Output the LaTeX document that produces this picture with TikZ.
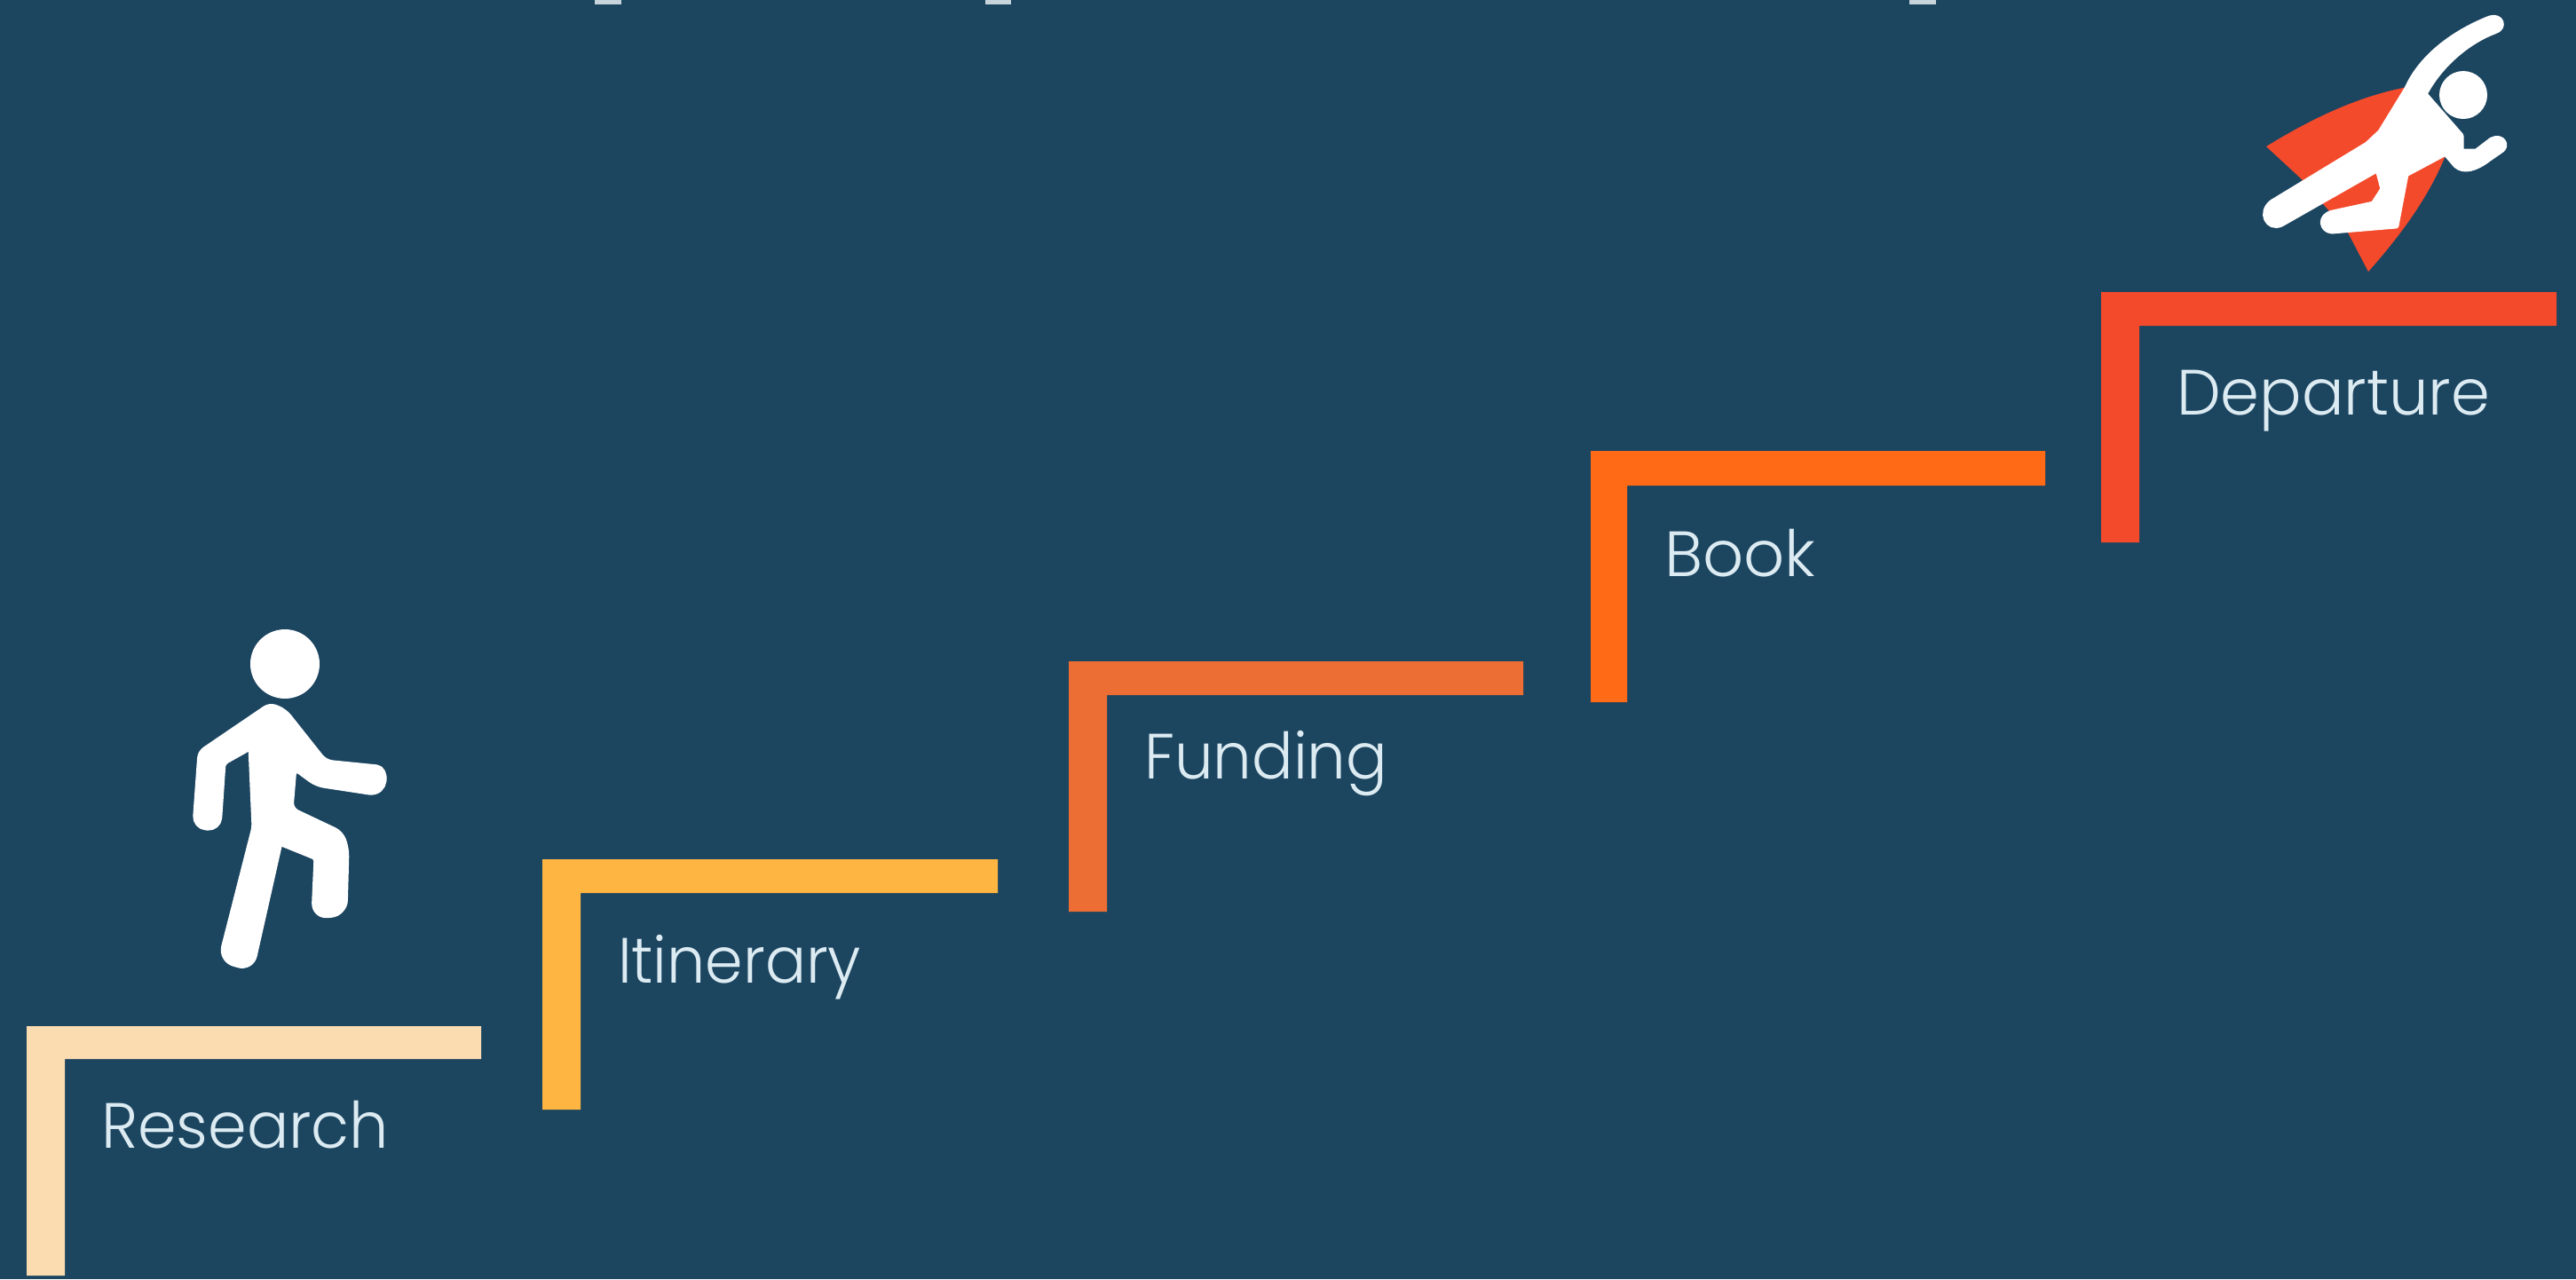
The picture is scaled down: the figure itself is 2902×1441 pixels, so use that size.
\documentclass[tikz,border=0pt]{standalone}
\usepackage{fontspec}
\usepackage{graphicx}
\setmainfont{Poppins}[UprightFont=* Light]
\definecolor{bgnavy}{HTML}{1C4560}
\definecolor{stepa}{HTML}{FBDCB0}
\definecolor{stepb}{HTML}{FFB541}
\definecolor{stepc}{HTML}{EC6E34}
\definecolor{stepd}{HTML}{FF6A17}
\definecolor{stepe}{HTML}{F34A2B}
\definecolor{labeltext}{HTML}{DCEBF2}
\definecolor{cropmark}{HTML}{C8D4DC}
\tikzset{
  lbl/.style={anchor=base west,inner sep=0pt,outer sep=0pt,text=labeltext,font=\fontsize{20.5pt}{24pt}\selectfont},
  figure/.style={fill=white,draw=white,line width=0.07cm,line join=round}
}
\newcommand{\fitw}[2]{\resizebox{#1}{\height}{#2}}
% \stair{colour}{left}{inner}{right}{top}{innery}{bottom}
\newcommand{\stair}[7]{\fill[#1] (#2,#5) -- (#4,#5) -- (#4,#6) -- (#3,#6) -- (#3,#7) -- (#2,#7) -- cycle;}
\begin{document}
\begin{tikzpicture}[x=0.01cm,y=-0.01cm]
\useasboundingbox (0,0) rectangle (2902,1441);
\fill[bgnavy] (0,0) rectangle (2902,1441);
% clipped marks along the top edge
\fill[cropmark] (670,0) rectangle (700,5);
\fill[cropmark] (1110,0) rectangle (1139,5);
\fill[cropmark] (2151,0) rectangle (2181,5);
% stairs
\stair{stepa}{30}{73}{542}{1156}{1193}{1437}
\stair{stepb}{611}{654}{1124}{968}{1006}{1250}
\stair{stepc}{1204}{1247}{1716}{745}{783}{1027}
\stair{stepd}{1792}{1833}{2304}{508}{547}{791}
\stair{stepe}{2367}{2410}{2880}{329}{367}{611}
% labels
\node[lbl] (research) at (114,1293) {\fitw{3.24cm}{Research}};
\node[lbl] (itinerary) at (696,1107) {\fitw{2.74cm}{Itinerary}};
\node[lbl] (funding) at (1289,877) {\fitw{2.74cm}{Funding}};
\node[lbl] (book) at (1875,649) {\fitw{1.70cm}{Book}};
\node[lbl] (departure) at (2452,467) {\fitw{3.53cm}{Departure}};
% walker
\fill[white] (321,748) circle (39);
\path[figure,rounded corners=0.08cm]
  (304,795) -- (320,801) -- (366,859) -- (416,864)
  [sharp corners] .. controls (436,866) and (436,894) .. (416,892)
  [rounded corners=0.08cm] -- (357,883)
  -- (331,864) -- (327,912) -- (384,939) -- (390,957)
  [rounded corners=0.15cm] -- (388,1029) -- (354,1032) [rounded corners=0.04cm]
  -- (357,966) -- (315,949)
  [rounded corners=0.15cm] -- (283,1091) -- (249,1081) [rounded corners=0.04cm]
  -- (287,932) -- (283,841) -- (251,859)
  [rounded corners=0.12cm] -- (246,933) -- (220,931) [rounded corners=0.06cm]
  -- (226,848) -- cycle;
% flyer
\fill[stepe] (2553,165) .. controls (2610,130) and (2660,108) .. (2712,98)
  -- (2722,150) -- (2755,175) .. controls (2735,225) and (2700,270) .. (2668,306)
  -- (2645,262) -- (2593,202) -- cycle;
\fill[white] (2775,107) circle (27);
\path[figure]
  (2712,100) .. controls (2727,66) and (2762,38) .. (2805,21)
  .. controls (2817,17) and (2823,31) .. (2810,35)
  .. controls (2778,47) and (2747,75) .. (2731,106)
  -- (2772,153) -- (2772,171) -- (2790,171) -- (2807,158)
  .. controls (2819,152) and (2826,165) .. (2816,170)
  -- (2803,179) .. controls (2790,189) and (2776,194) .. (2767,186)
  -- (2755,172) -- (2710,196) -- (2699,254) -- (2627,260)
  .. controls (2615,259) and (2613,243) .. (2628,240)
  -- (2674,230) -- (2685,213) -- (2679,190) -- (2570,252)
  .. controls (2555,259) and (2545,239) .. (2560,228)
  -- (2667,163) -- (2682,149) -- cycle;
\end{tikzpicture}
\end{document}
